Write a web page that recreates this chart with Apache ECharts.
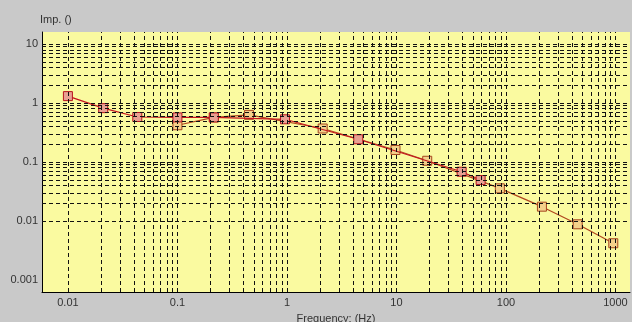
<!DOCTYPE html>
<html>
<head>
<meta charset="utf-8">
<script src="https://cdn.jsdelivr.net/npm/echarts@6/dist/echarts.min.js"></script>
<style>
  html, body { margin: 0; padding: 0; background: #c9c9c9; }
  #chart { width: 632px; height: 322px; }
</style>
</head>
<body>
<div id="chart"></div>
<script>
// Impedance spectrum, log-log, two measurement runs
const freqA = [0.01, 0.021, 0.043, 0.1, 0.215, 0.96, 4.48, 39.4, 58.7];
const impA  = [1.31, 0.82, 0.58, 0.57, 0.57, 0.53, 0.243, 0.0685, 0.0495];

const freqB = [0.1, 0.215, 0.45, 2.12, 9.8, 19.1, 88, 213, 452, 955];
const impB  = [0.42, 0.57, 0.63, 0.37, 0.16, 0.105, 0.0358, 0.0175, 0.0088, 0.0042];

const xTickLabels = ['0.01', '0.1', '1', '10', '100', '1000'];
const yTickLabels = ['0.001', '0.01', '0.1', '1', '10'];

const X_MIN = 0.0058, X_MAX = 1357;
const Y_MIN = 0.000626, Y_MAX = 16;

// dashed grid at 1..9 x each decade inside the axis range
function logGrid(lo, hi) {
  const out = [];
  for (let e = Math.floor(Math.log10(lo)); e <= Math.ceil(Math.log10(hi)); e++) {
    for (let m = 1; m <= 9; m++) {
      const v = m * Math.pow(10, e);
      if (v > lo * 1.0001 && v < hi * 0.9999) out.push(v);
    }
  }
  return out;
}

function fmt(list) {
  return function (v) {
    for (const s of list) {
      if (Math.abs(Math.log10(v) - Math.log10(parseFloat(s))) < 1e-6) return s;
    }
    return '';
  };
}

const gridStyle = { color: '#111', type: [4, 3], width: 1 };
const gridLines = []
  .concat(logGrid(X_MIN, X_MAX).map(v => ({ xAxis: v })))
  .concat(logGrid(Y_MIN, Y_MAX).map(v => ({ yAxis: v })));

const chart = echarts.init(document.getElementById('chart'), null, { renderer: 'canvas' });

chart.setOption({
  backgroundColor: '#c9c9c9',
  animation: false,
  textStyle: { fontFamily: 'Liberation Sans, Arial, sans-serif' },
  grid: {
    left: 42, right: 2, top: 32, bottom: 30,
    outerBoundsMode: 'none', containLabel: false,
    show: true, backgroundColor: '#fafaa0', borderWidth: 0
  },
  xAxis: {
    type: 'log', logBase: 10, min: X_MIN, max: X_MAX,
    axisLine: { show: true, lineStyle: { color: '#000', width: 1 } },
    axisTick: { show: false },
    splitLine: { show: false },
    axisLabel: { formatter: fmt(xTickLabels), color: '#333', fontSize: 11, margin: 5 },
    name: 'Frequency: (Hz)', nameLocation: 'middle', nameGap: 21,
    nameTextStyle: { color: '#333', fontSize: 11 }
  },
  yAxis: {
    type: 'log', logBase: 10, min: Y_MIN, max: Y_MAX,
    axisLine: { show: true, lineStyle: { color: '#000', width: 1 } },
    axisTick: { show: false },
    splitLine: { show: false },
    axisLabel: { formatter: fmt(yTickLabels), color: '#333', fontSize: 11, margin: 4 }
  },
  graphic: [{
    type: 'text', left: 40, top: 14,
    style: { text: 'Imp. ()', fill: '#333', font: '11px Liberation Sans, Arial, sans-serif' }
  }],
  series: [
    {
      name: 'grid', type: 'line', data: [], silent: true,
      markLine: {
        silent: true, symbol: ['none', 'none'], label: { show: false },
        lineStyle: gridStyle, animation: false, data: gridLines
      }
    },
    {
      name: 'B', type: 'line', z: 3,
      data: freqB.map((f, i) => [f, impB[i]]),
      lineStyle: { color: '#b0461e', width: 1.2 },
      symbol: 'rect', symbolSize: 9,
      itemStyle: { color: '#f3d08a', borderColor: '#a5461e', borderWidth: 1 }
    },
    {
      name: 'A', type: 'line', z: 4,
      data: freqA.map((f, i) => [f, impA[i]]),
      lineStyle: { color: '#c4141e', width: 1.2 },
      symbol: 'rect', symbolSize: 9,
      itemStyle: { color: '#e8a092', borderColor: '#b8141e', borderWidth: 1 }
    }
  ]
});
</script>
</body>
</html>
